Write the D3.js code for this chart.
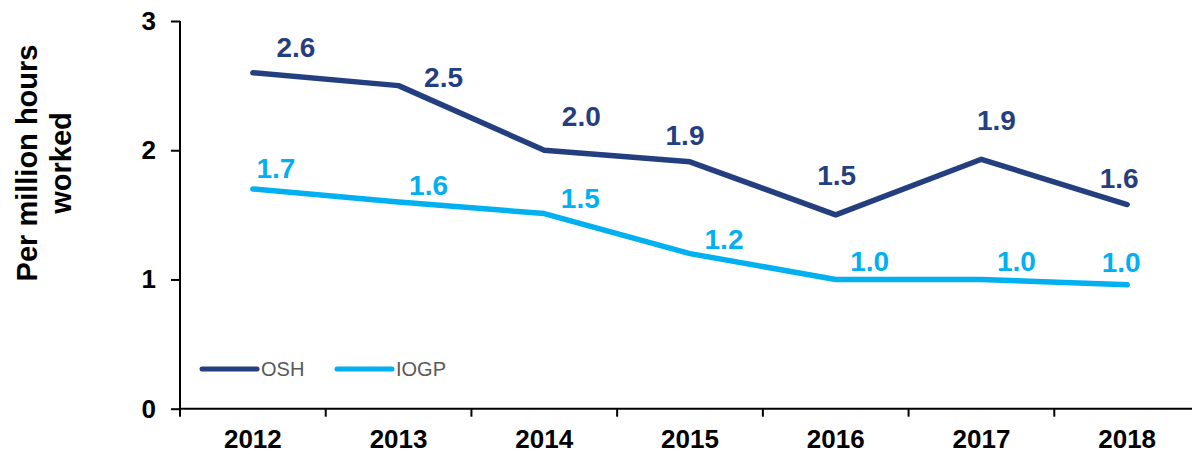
<!DOCTYPE html>
<html>
<head>
<meta charset="utf-8">
<script src="https://cdn.jsdelivr.net/npm/d3@7"></script>
<style>
  body { margin: 0; background: #fff; }
  svg { font-family: "Liberation Sans", Arial, sans-serif; }
</style>
</head>
<body>
<div id="chart-area"></div>
<script>
var years = ["2012", "2013", "2014", "2015", "2016", "2017", "2018"];
var oshValues = [2.6, 2.5, 2.0, 1.91, 1.5, 1.93, 1.58];
var iogpValues = [1.7, 1.6, 1.51, 1.2, 1.0, 1.0, 0.96];
var oshLabels = ["2.6", "2.5", "2.0", "1.9", "1.5", "1.9", "1.6"];
var iogpLabels = ["1.7", "1.6", "1.5", "1.2", "1.0", "1.0", "1.0"];
var yTicks = [0, 1, 2, 3];

// label offsets from each point (layout only)
var oshOffsets = [[43, -16], [45, 1], [37, -24], [-5, -17], [1, -30], [15, -29], [-8, -17]];
var iogpOffsets = [[23, -11], [30, -7], [36, -6], [34, -5], [34, -8], [35, -8], [-6, -13]];

var width = 1192;
var height = 454;
var plotLeft = 180, plotRight = 1200, plotTop = 21, plotBottom = 408.7;

var svg = d3.select("#chart-area")
  .append("svg")
  .attr("width", width)
  .attr("height", height);

var x = d3.scaleBand()
  .domain(years)
  .range([plotLeft, plotRight]);

var y = d3.scaleLinear()
  .domain([0, 3])
  .range([plotBottom, plotTop]);

// y axis
var leftAxis = d3.axisLeft(y).tickValues(yTicks).tickSize(9).tickPadding(15).tickFormat(d3.format("d"));
var gy = svg.append("g")
  .attr("class", "y axis")
  .attr("transform", "translate(" + plotLeft + ",0)")
  .call(leftAxis);
gy.select(".domain").remove();
gy.selectAll("line").attr("stroke", "#000").attr("stroke-width", 2);
gy.selectAll("text")
  .attr("font-size", "26px")
  .attr("font-weight", "bold")
  .attr("fill", "#000")
  .attr("font-family", "Liberation Sans, Arial, sans-serif");
gy.append("line")
  .attr("x1", 0).attr("x2", 0)
  .attr("y1", plotTop).attr("y2", plotBottom + 8)
  .attr("stroke", "#000").attr("stroke-width", 2);

// x axis
var gx = svg.append("g").attr("class", "x axis");
gx.append("line")
  .attr("x1", plotLeft).attr("x2", plotRight)
  .attr("y1", plotBottom).attr("y2", plotBottom)
  .attr("stroke", "#000").attr("stroke-width", 2);
gx.selectAll(".tick")
  .data(years.slice(1).map(d => x(d)).concat([plotRight]))
  .enter().append("line")
  .attr("x1", d => d).attr("x2", d => d)
  .attr("y1", plotBottom).attr("y2", plotBottom + 8)
  .attr("stroke", "#000").attr("stroke-width", 2);
gx.selectAll("text")
  .data(years).enter()
  .append("text")
  .attr("x", d => x(d) + x.bandwidth() / 2)
  .attr("y", 448)
  .attr("text-anchor", "middle")
  .attr("font-size", "26px")
  .attr("font-weight", "bold")
  .text(d => d);

// y title
var title = svg.append("text")
  .attr("transform", "rotate(-90)")
  .attr("text-anchor", "middle")
  .attr("font-size", "29px")
  .attr("font-weight", "bold");
title.append("tspan").attr("x", -163).attr("y", 37).text("Per million hours");
title.append("tspan").attr("x", -163).attr("y", 71).text("worked");

var series = [
  { name: "OSH", values: oshValues, labels: oshLabels, offsets: oshOffsets, color: "#243f7f" },
  { name: "IOGP", values: iogpValues, labels: iogpLabels, offsets: iogpOffsets, color: "#00b0f0" }
];

var line = d3.line()
  .x((d, i) => x(years[i]) + x.bandwidth() / 2)
  .y(d => y(d));

series.forEach(s => {
  svg.append("path")
    .datum(s.values)
    .attr("fill", "none")
    .attr("stroke", s.color)
    .attr("stroke-width", 5.5)
    .attr("stroke-linejoin", "round")
    .attr("stroke-linecap", "round")
    .attr("d", line);

  svg.append("g").selectAll("text")
    .data(s.values).enter()
    .append("text")
    .attr("x", (d, i) => x(years[i]) + x.bandwidth() / 2 + s.offsets[i][0])
    .attr("y", (d, i) => y(d) + s.offsets[i][1])
    .attr("text-anchor", "middle")
    .attr("font-size", "28px")
    .attr("font-weight", "bold")
    .attr("fill", s.color)
    .text((d, i) => s.labels[i]);
});

// legend
var legend = svg.append("g").attr("class", "legend");
var legendX = [202, 337];
series.forEach((s, i) => {
  legend.append("line")
    .attr("x1", legendX[i]).attr("x2", legendX[i] + 55)
    .attr("y1", 369).attr("y2", 369)
    .attr("stroke", s.color)
    .attr("stroke-width", 5)
    .attr("stroke-linecap", "round");
  legend.append("text")
    .attr("x", legendX[i] + 59)
    .attr("y", 376)
    .attr("font-size", "20px")
    .attr("fill", "#595959")
    .text(s.name);
});
</script>
</body>
</html>
